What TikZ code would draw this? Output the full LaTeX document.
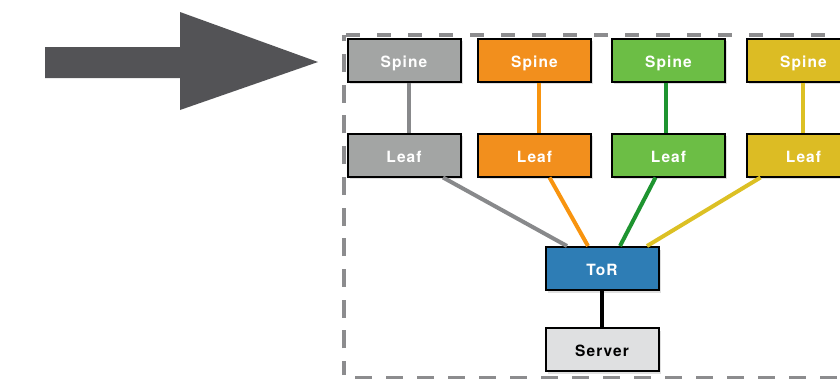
\documentclass[tikz,border=0pt]{standalone}
\usepackage{fontspec}
\setmainfont{TeX Gyre Heros}
\newfontfamily\labelfont[LetterSpace=7]{TeX Gyre Heros}
\usetikzlibrary{shadows}
\definecolor{arrowgray}{HTML}{535356}
\definecolor{framegray}{HTML}{8C8C8E}
\definecolor{boxgray}{HTML}{A3A5A4}
\definecolor{boxorange}{HTML}{F28F1D}
\definecolor{boxgreen}{HTML}{6CBE45}
\definecolor{boxyellow}{HTML}{DCBC24}
\definecolor{boxblue}{HTML}{2E7DB5}
\definecolor{boxlight}{HTML}{DFE0E1}
\definecolor{wiregray}{HTML}{88898B}
\definecolor{wireorange}{HTML}{F8940F}
\definecolor{wiregreen}{HTML}{1E9430}
\definecolor{wireyellow}{HTML}{DCC024}
\tikzset{
  netbox/.style={draw=black, line width=2pt, minimum width=113pt, minimum height=43pt,
    inner sep=0pt, text height=14.5pt, text depth=0pt,
    font=\labelfont\bfseries\fontsize{15.5}{17}\selectfont, text=white,
    drop shadow={opacity=0.25, shadow xshift=2pt, shadow yshift=-2.5pt}},
  wire/.style={line width=4pt},
  frame/.style={framegray, line width=4pt},
}
\begin{document}
\begin{tikzpicture}[x=1pt, y=-1pt]
\useasboundingbox (0,0) rectangle (840,378);

% big arrow pointing at the fabric
\fill[arrowgray] (45,47) -- (180,47) -- (180,12) -- (318,62) -- (180,110) -- (180,78) -- (45,78) -- cycle;

% dashed frame around the fabric
\draw[frame, dash pattern=on 18pt off 12.7pt, dash phase=4pt] (344,375) -- (344,35);
\draw[frame, dash pattern=on 14pt off 17pt] (346,35) -- (880,35);
\draw[frame, dash pattern=on 17pt off 14pt] (355,377.5) -- (880,377.5);

% spine layer
\node[netbox, fill=boxgray]   (s1) at (404,60) {Spine};
\node[netbox, fill=boxorange] (s2) at (534.5,60) {Spine};
\node[netbox, fill=boxgreen]  (s3) at (668.5,60) {Spine};
\node[netbox, fill=boxyellow] (s4) at (803.5,60) {Spine};

% leaf layer
\node[netbox, fill=boxgray]   (l1) at (404,155) {Leaf};
\node[netbox, fill=boxorange] (l2) at (534.5,155) {Leaf};
\node[netbox, fill=boxgreen]  (l3) at (668.5,155) {Leaf};
\node[netbox, fill=boxyellow] (l4) at (803.5,155) {Leaf};

% top of rack and server
\node[netbox, fill=boxblue]  (tor) at (602,268.5) {ToR};
\node[netbox, fill=boxlight, text=black] (srv) at (602,349.5) {Server};

% spine to leaf links
\draw[wire, wiregray]   ([xshift=5pt]s1.south) -- ([xshift=5pt]l1.north);
\draw[wire, wireorange] ([xshift=4pt]s2.south) -- ([xshift=4pt]l2.north);
\draw[wire, wiregreen]  ([xshift=-3pt]s3.south) -- ([xshift=-3pt]l3.north);
\draw[wire, wireyellow] ([xshift=-1pt]s4.south) -- ([xshift=-1pt]l4.north);

% leaf to ToR links
\draw[wire, wiregray]   ([xshift=39pt]l1.south) -- ([xshift=-35pt]tor.north);
\draw[wire, wireorange] ([xshift=15pt]l2.south) -- ([xshift=-14pt]tor.north);
\draw[wire, wiregreen]  ([xshift=-13pt]l3.south) -- ([xshift=18pt]tor.north);
\draw[wire, wireyellow] ([xshift=-43pt]l4.south) -- ([xshift=45pt]tor.north);

% ToR to server
\draw[line width=4.5pt, black] (tor.south) -- (srv.north);
\end{tikzpicture}
\end{document}
